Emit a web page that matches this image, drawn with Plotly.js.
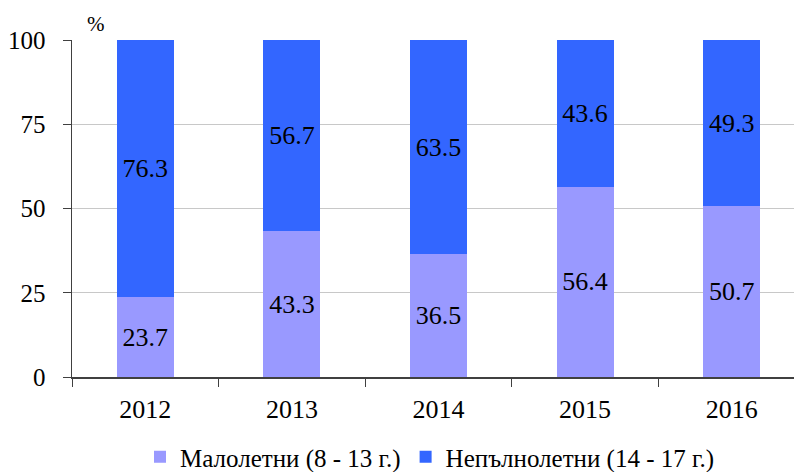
<!DOCTYPE html>
<html>
<head>
<meta charset="utf-8">
<script src="https://cdn.plot.ly/plotly-3.0.1.min.js"></script>
<style>html,body{margin:0;padding:0;overflow:hidden;background:#fff;}</style>
</head>
<body>
<div id="chart" style="width:794px;height:472px;"></div>
<script>
const years = ['2012', '2013', '2014', '2015', '2016'];
const minors = [23.7, 43.3, 36.5, 56.4, 50.7];
const juveniles = [76.3, 56.7, 63.5, 43.6, 49.3];
const seriesNames = ['Малолетни (8 - 13 г.)', 'Непълнолетни (14 - 17 г.)'];
const yTicks = [0, 25, 50, 75, 100];

const font = 'Liberation Serif';

const common = {
  type: 'bar',
  x: years,
  width: 0.39,
  textposition: 'inside',
  insidetextanchor: 'middle',
  constraintext: 'none',
  textangle: 0,
  textfont: {family: font, size: 26, color: '#000'},
  insidetextfont: {family: font, size: 26, color: '#000'},
  hoverinfo: 'skip'
};

const data = [
  Object.assign({}, common, {
    name: seriesNames[0], y: minors,
    text: minors.map(v => v.toFixed(1)),
    marker: {color: '#9999FF'}
  }),
  Object.assign({}, common, {
    name: seriesNames[1], y: juveniles,
    text: juveniles.map(v => v.toFixed(1)),
    marker: {color: '#3366FF'}
  })
];

const layout = {
  width: 794, height: 472,
  margin: {l: 72, r: 0, t: 40, b: 95, autoexpand: false},
  barmode: 'stack',
  paper_bgcolor: '#fff', plot_bgcolor: '#fff',
  font: {family: font, size: 24, color: '#000'},
  showlegend: true,
  legend: {
    orientation: 'h', x: (140 - 72) / 722, xanchor: 'left', y: (377 - 457) / 337, yanchor: 'middle',
    font: {family: font, size: 25, color: '#000'},
    itemwidth: 30, traceorder: 'normal', bgcolor: 'rgba(0,0,0,0)'
  },
  xaxis: {
    type: 'category', range: [-0.5, 4.425],
    showline: true, linecolor: '#404040', linewidth: 1.5,
    ticks: 'outside', tickson: 'boundaries', ticklen: 8, tickcolor: '#404040',
    ticklabelstandoff: 8,
    showgrid: false, zeroline: false,
    tickfont: {family: font, size: 26, color: '#000'}
  },
  yaxis: {
    range: [0, 100], tickvals: yTicks, ticktext: yTicks.map(String),
    showline: true, linecolor: '#404040', linewidth: 1.5,
    ticks: 'outside', ticklen: 8, tickcolor: '#404040',
    ticklabelstandoff: 12,
    showgrid: true, gridcolor: '#C8C8C8', gridwidth: 1,
    zeroline: false,
    tickfont: {family: font, size: 25, color: '#000'}
  },
  annotations: [{
    text: '%', xref: 'paper', yref: 'paper', x: (96 - 72) / 722, y: 1 + (40 - 24) / 337,
    xanchor: 'center', yanchor: 'middle', showarrow: false,
    font: {family: font, size: 21, color: '#000'}
  }]
};

Plotly.newPlot('chart', data, layout, {displayModeBar: false, staticPlot: true});
</script>
</body>
</html>
